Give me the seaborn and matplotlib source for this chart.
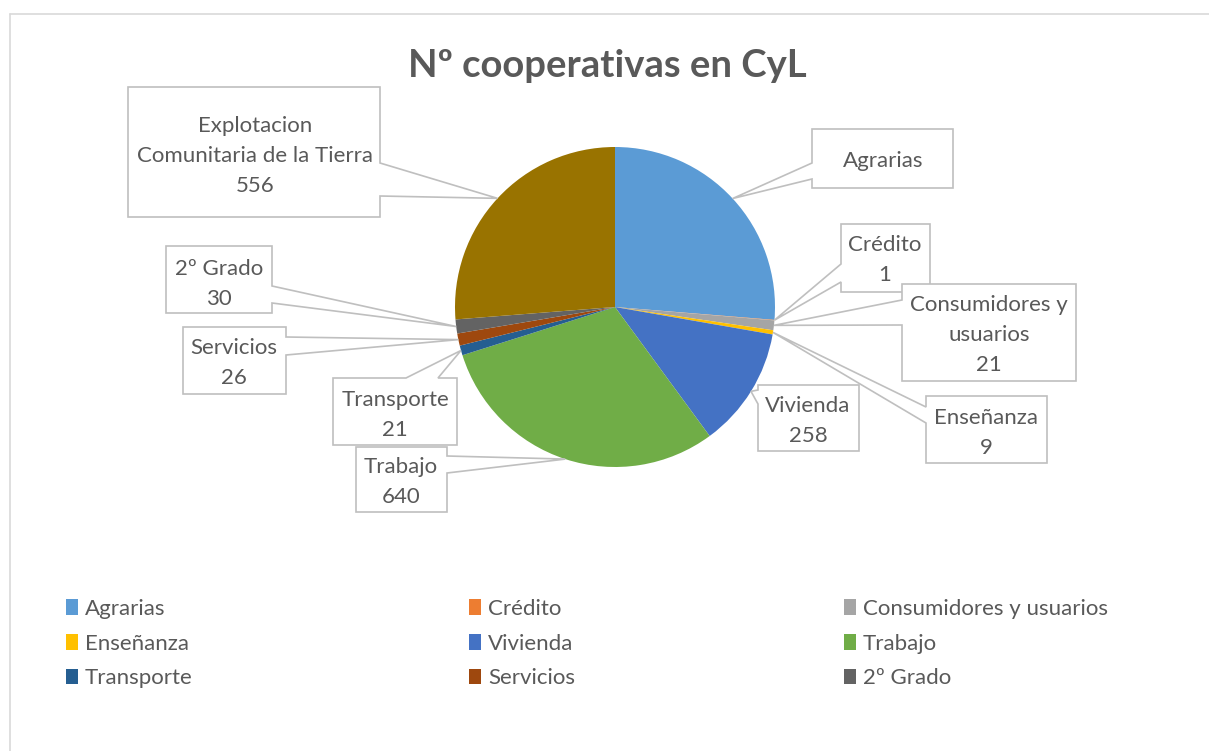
import numpy as np
import matplotlib
matplotlib.use("Agg")
import matplotlib.pyplot as plt
import seaborn as sns
from matplotlib.patches import Polygon, Patch

# Data
CATEGORIES = ["Agrarias", "Crédito", "Consumidores y usuarios", "Enseñanza", "Vivienda",
              "Trabajo", "Transporte", "Servicios", "2º Grado",
              "Explotacion Comunitaria de la Tierra"]
COUNTS = [557, 1, 21, 9, 258, 640, 21, 26, 30, 556]
LABEL_NAMES = ["Agrarias", "Crédito", "Consumidores y\nusuarios", "Enseñanza", "Vivienda",
               "Trabajo", "Transporte", "Servicios", "2º Grado",
               "Explotacion\nComunitaria de la Tierra"]
SHOW_VALUE = [False, True, True, True, True, True, True, True, True, True]
COLORS = ["#5B9BD5", "#ED7D31", "#A5A5A5", "#FFC000", "#4472C4",
          "#70AD47", "#255E91", "#9E480E", "#636363", "#997300"]
LEGEND_COUNT = 9  # last slice is not in the legend

# Callout layout in pixels: box (x0, y0, x1, y1), pointer side, pointer base, text centre
CALLOUTS = [
    ((812, 129, 953, 188), "left", (163, 179), (883, 161)),
    ((841, 224, 930, 292), "left", (264, 282), (885, 260)),
    ((902, 284, 1076, 381), "left", (300, 325), (989, 335)),
    ((926, 396, 1047, 463), "left", (407, 423), (986, 433)),
    ((758, 385, 859, 451), "left", (390, 404), (808, 421)),
    ((356, 447, 447, 512), "right", (456, 473), (401, 482)),
    ((333, 378, 457, 445), "top", (406, 438), (395, 415)),
    ((183, 327, 286, 394), "right", (337, 355), (234, 363)),
    ((166, 246, 272, 313), "right", (286, 303), (219, 284)),
    ((128, 87, 380, 217), "right", (163, 196), (255, 156)),
]

W, H = 1209, 751
CX, CY, R = 615, 307, 160
TEXT_COLOR = "#595959"
LINE_COLOR = "#BFBFBF"
FONT_SIZE = 16

sns.set_theme(style="white")
plt.rcParams['font.family'] = ['Lato', 'DejaVu Sans']

fig = plt.figure(figsize=(W / 100, H / 100), dpi=100)
fig.patch.set_facecolor("white")

# pixel overlay for title, border and callouts
overlay = fig.add_axes([0, 0, 1, 1])
overlay.set_xlim(0, W)
overlay.set_ylim(H, 0)
overlay.axis("off")
overlay.set_zorder(2)
overlay.patch.set_alpha(0)

pie_ax = fig.add_axes([(CX - R) / W, 1 - (CY + R) / H, 2 * R / W, 2 * R / H])
wedges, _ = pie_ax.pie(COUNTS, colors=COLORS, startangle=90, counterclock=False,
                       radius=1, wedgeprops=dict(linewidth=0))
pie_ax.set_xlim(-1, 1)
pie_ax.set_ylim(-1, 1)
pie_ax.axis("off")

# chart border
overlay.plot([10, W], [14, 14], color="#D9D9D9", lw=1.2)
overlay.plot([10, 10], [14, H], color="#D9D9D9", lw=1.2)

overlay.text(607, 66, "Nº cooperativas en CyL", ha="center", va="center",
             fontsize=27.5, fontweight="bold", color=TEXT_COLOR)


def callout_polygon(box, side, base, tip):
    x0, y0, x1, y1 = box
    b1, b2 = base
    if side == "right":
        return [(x0, y0), (x1, y0), (x1, b1), tip, (x1, b2), (x1, y1), (x0, y1)]
    if side == "left":
        return [(x0, y0), (x1, y0), (x1, y1), (x0, y1), (x0, b2), tip, (x0, b1)]
    return [(x0, y0), (b1, y0), tip, (b2, y0), (x1, y0), (x1, y1), (x0, y1)]


for i, w in enumerate(wedges):
    box, side, base, tpos = CALLOUTS[i]
    ang = np.deg2rad((w.theta1 + w.theta2) / 2)
    dx, dy = pie_ax.transData.transform((np.cos(ang), np.sin(ang)))
    tip = (dx, H - dy)
    poly = Polygon(callout_polygon(box, side, base, tip), closed=True,
                   facecolor="white", edgecolor=LINE_COLOR, lw=1.2)
    overlay.add_patch(poly)
    txt = LABEL_NAMES[i]
    if SHOW_VALUE[i]:
        txt += f"\n{COUNTS[i]}"
    overlay.text(tpos[0], tpos[1], txt, ha="center", va="center", fontsize=FONT_SIZE,
                 color=TEXT_COLOR, linespacing=1.6)

# legend: three columns, row-major order
col_x = [66, 469, 844]
for c in range(3):
    idx = list(range(c, LEGEND_COUNT, 3))
    handles = [Patch(facecolor=COLORS[j], edgecolor="none") for j in idx]
    leg = fig.legend(handles, [CATEGORIES[j] for j in idx], loc="upper left",
                     bbox_to_anchor=(col_x[c] / W, 1 - 599 / H), frameon=False,
                     fontsize=FONT_SIZE, handlelength=0.55, handleheight=0.7,
                     handletextpad=0.3, labelspacing=0.66, borderaxespad=0,
                     borderpad=0)
    for t in leg.get_texts():
        t.set_color(TEXT_COLOR)

fig.savefig("out.png", dpi=100, facecolor="white")
